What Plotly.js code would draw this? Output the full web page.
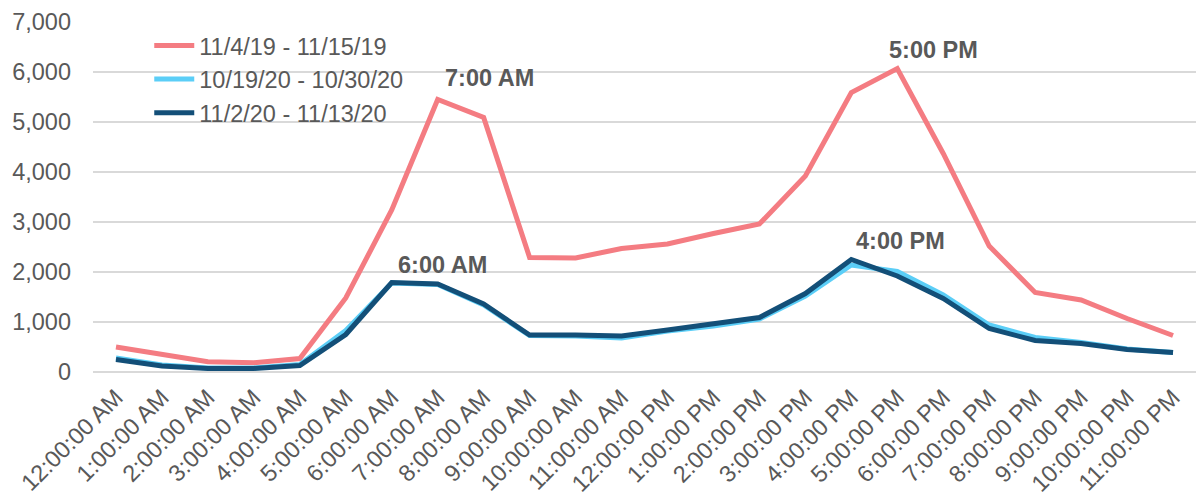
<!DOCTYPE html>
<html>
<head>
<meta charset="utf-8">
<script src="https://cdn.plot.ly/plotly-3.0.1.min.js"></script>
<style>html,body{margin:0;padding:0;background:#fff;}#chart{width:1196px;height:498px;}</style>
</head>
<body>
<div id="chart"></div>
<script>
const hours = ["12:00:00 AM","1:00:00 AM","2:00:00 AM","3:00:00 AM","4:00:00 AM","5:00:00 AM","6:00:00 AM","7:00:00 AM","8:00:00 AM","9:00:00 AM","10:00:00 AM","11:00:00 AM","12:00:00 PM","1:00:00 PM","2:00:00 PM","3:00:00 PM","4:00:00 PM","5:00:00 PM","6:00:00 PM","7:00:00 PM","8:00:00 PM","9:00:00 PM","10:00:00 PM","11:00:00 PM"];
const series2019 = [500,340,205,185,270,1480,3240,5450,5090,2290,2280,2470,2560,2770,2960,3920,5590,6070,4370,2520,1590,1440,1070,730];
const seriesOct2020 = [280,140,80,80,150,830,1780,1750,1340,730,720,680,820,920,1060,1520,2140,2010,1540,940,690,590,460,390];
const seriesNov2020 = [250,120,70,70,130,750,1790,1760,1360,740,740,720,840,960,1090,1570,2250,1920,1470,870,630,570,450,390];
const names = ["11/4/19 - 11/15/19","10/19/20 - 10/30/20","11/2/20 - 11/13/20"];
const peakLabels = [
  {x:"7:00:00 AM", y:5450, text:"7:00 AM"},
  {x:"6:00:00 AM", y:1790, text:"6:00 AM"},
  {x:"5:00:00 PM", y:6070, text:"5:00 PM"},
  {x:"4:00:00 PM", y:2250, text:"4:00 PM"}
];
const font = "Liberation Sans, Arial, sans-serif";
const traces = [
  {x:hours, y:series2019, name:names[0], mode:"lines", line:{color:"#F47C82", width:5}},
  {x:hours, y:seriesOct2020, name:names[1], mode:"lines", line:{color:"#5BCEF7", width:5}},
  {x:hours, y:seriesNov2020, name:names[2], mode:"lines", line:{color:"#134F78", width:5}}
];
const annOffsets = [{dx:52,dy:-22},{dx:51,dy:-18},{dx:36,dy:-19},{dx:49,dy:-19}];
const annotations = peakLabels.map((p,i)=>({
  x:p.x, y:p.y, text:"<b>"+p.text+"</b>", showarrow:false,
  xshift:annOffsets[i].dx, yshift:-annOffsets[i].dy,
  font:{family:font, size:23.5, color:"#595959"}
}));
const layout = {
  width:1196, height:498,
  margin:{l:93, r:0, t:22, b:126},
  paper_bgcolor:"#fff", plot_bgcolor:"#fff",
  showlegend:true,
  legend:{x:0.051, y:0.995, xanchor:"left", yanchor:"top", bgcolor:"rgba(0,0,0,0)",
    font:{family:font, size:23.5, color:"#595959"}, tracegroupgap:0, itemwidth:40},
  xaxis:{type:"category", range:[-0.5,23.5], tickangle:-45, showgrid:false, zeroline:false,
    showline:false, ticks:"", ticklabelstandoff:6,
    tickfont:{family:font, size:23.5, color:"#595959"}, fixedrange:true},
  yaxis:{range:[0,7000], dtick:1000, tickformat:",", showgrid:true, gridcolor:"#D9D9D9", gridwidth:2,
    zeroline:true, zerolinecolor:"#D9D9D9", zerolinewidth:2, showline:false, ticks:"",
    ticklabelstandoff:21,
    tickfont:{family:font, size:23.5, color:"#595959"}, fixedrange:true},
  annotations:annotations
};
Plotly.newPlot("chart", traces, layout, {displayModeBar:false, staticPlot:true});
</script>
</body>
</html>
